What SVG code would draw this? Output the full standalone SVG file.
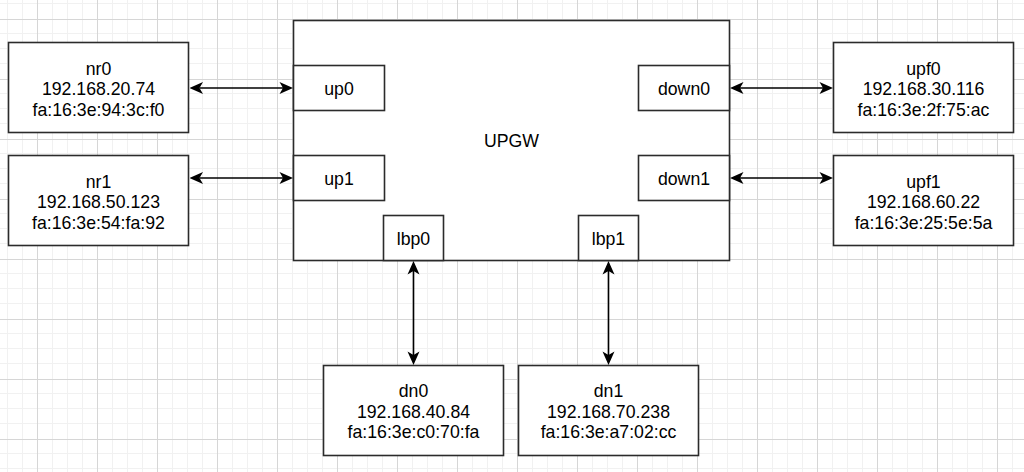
<svg xmlns="http://www.w3.org/2000/svg" width="1024" height="472" viewBox="0 0 1024 472">
  <style>
    .box { fill: #ffffff; stroke: #2b2b2b; stroke-width: 1.6; }
    .lbl { font-family: "Liberation Sans", Arial, sans-serif; font-size: 17.7px; fill: #000000; text-anchor: middle; }
    .conn { stroke: #000000; stroke-width: 1.6; fill: none; marker-start: url(#arr); marker-end: url(#arr); }
  </style>
  <defs>
    <pattern id="grid" x="0" y="0" width="60" height="60" patternUnits="userSpaceOnUse">
      <g stroke="#f1f1f1" stroke-width="1">
        <line x1="7.5" y1="0" x2="7.5" y2="60"/>
        <line x1="22.5" y1="0" x2="22.5" y2="60"/>
        <line x1="52.5" y1="0" x2="52.5" y2="60"/>
        <line x1="0" y1="3.5" x2="60" y2="3.5"/>
        <line x1="0" y1="33.5" x2="60" y2="33.5"/>
        <line x1="0" y1="48.5" x2="60" y2="48.5"/>
      </g>
      <g stroke="#d6d6d6" stroke-width="1">
        <line x1="37.5" y1="0" x2="37.5" y2="60"/>
        <line x1="0" y1="19.5" x2="60" y2="19.5"/>
      </g>
    </pattern>
    <marker id="arr" viewBox="-15 -8 15 16" markerWidth="15" markerHeight="16" refX="-10" refY="0" orient="auto-start-reverse" markerUnits="userSpaceOnUse">
      <path d="M0,0 L-13.5,-6 L-10,0 L-13.5,6 Z" fill="#000000"/>
    </marker>
  </defs>
  <rect x="0" y="0" width="1024" height="472" fill="#ffffff"/>
  <rect x="0" y="0" width="1024" height="472" fill="url(#grid)"/>

  <g id="upgw">
    <rect class="box" x="293.5" y="20.5" width="436" height="240"/>
    <text class="lbl" x="511.5" y="146.7">UPGW</text>
  </g>
  <g id="up0">
    <rect class="box" x="293.5" y="65.5" width="91" height="45"/>
    <text class="lbl" x="339" y="94.5">up0</text>
  </g>
  <g id="up1">
    <rect class="box" x="293.5" y="155.5" width="91" height="45"/>
    <text class="lbl" x="339" y="184.5">up1</text>
  </g>
  <g id="down0">
    <rect class="box" x="638.5" y="65.5" width="91" height="45"/>
    <text class="lbl" x="684" y="94.5">down0</text>
  </g>
  <g id="down1">
    <rect class="box" x="638.5" y="155.5" width="91" height="45"/>
    <text class="lbl" x="684" y="184.5">down1</text>
  </g>
  <g id="lbp0">
    <rect class="box" x="383.5" y="215.5" width="60" height="45"/>
    <text class="lbl" x="413.5" y="244.5">lbp0</text>
  </g>
  <g id="lbp1">
    <rect class="box" x="578.5" y="215.5" width="60" height="45"/>
    <text class="lbl" x="608.5" y="244.5">lbp1</text>
  </g>

  <g id="nr0">
    <rect class="box" x="8.5" y="42.5" width="180" height="90"/>
    <text class="lbl" x="98.5" y="74.5">nr0</text>
    <text class="lbl" x="98.5" y="95.2">192.168.20.74</text>
    <text class="lbl" x="98.5" y="115.7">fa:16:3e:94:3c:f0</text>
  </g>
  <g id="nr1">
    <rect class="box" x="8.5" y="155.5" width="180" height="90"/>
    <text class="lbl" x="98.5" y="187.5">nr1</text>
    <text class="lbl" x="98.5" y="208.2">192.168.50.123</text>
    <text class="lbl" x="98.5" y="228.7">fa:16:3e:54:fa:92</text>
  </g>
  <g id="upf0">
    <rect class="box" x="833.5" y="42.5" width="180" height="90"/>
    <text class="lbl" x="923.5" y="74.5">upf0</text>
    <text class="lbl" x="923.5" y="95.2">192.168.30.116</text>
    <text class="lbl" x="923.5" y="115.7">fa:16:3e:2f:75:ac</text>
  </g>
  <g id="upf1">
    <rect class="box" x="833.5" y="155.5" width="180" height="90"/>
    <text class="lbl" x="923.5" y="187.5">upf1</text>
    <text class="lbl" x="923.5" y="208.2">192.168.60.22</text>
    <text class="lbl" x="923.5" y="228.7">fa:16:3e:25:5e:5a</text>
  </g>
  <g id="dn0">
    <rect class="box" x="323.5" y="365.5" width="180" height="90"/>
    <text class="lbl" x="413.5" y="397">dn0</text>
    <text class="lbl" x="413.5" y="417.7">192.168.40.84</text>
    <text class="lbl" x="413.5" y="438">fa:16:3e:c0:70:fa</text>
  </g>
  <g id="dn1">
    <rect class="box" x="518.5" y="365.5" width="180" height="90"/>
    <text class="lbl" x="608.5" y="397">dn1</text>
    <text class="lbl" x="608.5" y="417.7">192.168.70.238</text>
    <text class="lbl" x="608.5" y="438">fa:16:3e:a7:02:cc</text>
  </g>

  <g id="connectors">
    <line class="conn" x1="199.5" y1="88" x2="283" y2="88"/>
    <line class="conn" x1="199.5" y1="178" x2="283" y2="178"/>
    <line class="conn" x1="740" y1="88" x2="823" y2="88"/>
    <line class="conn" x1="740" y1="178" x2="823" y2="178"/>
    <line class="conn" x1="413.5" y1="271" x2="413.5" y2="355"/>
    <line class="conn" x1="608.5" y1="271" x2="608.5" y2="355"/>
  </g>
</svg>
